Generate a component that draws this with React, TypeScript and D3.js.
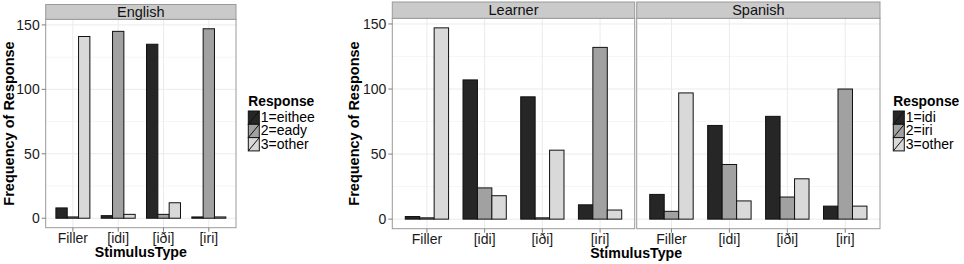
import React from "react";
import * as d3 from "d3";

const categories = ["Filler", "[idi]", "[iði]", "[iri]"];
const yTicks = [0, 50, 100, 150];
const yMinorTicks = [25, 75, 125];

const englishLevels = ["1=eithee", "2=eady", "3=other"];
const spanishLevels = ["1=idi", "2=iri", "3=other"];

const englishResp1 = [8, 2, 135, 1];
const englishResp2 = [1, 145, 3, 147];
const englishResp3 = [141, 3, 12, 1];

const learnerResp1 = [2, 107, 94, 11];
const learnerResp2 = [1, 24, 1, 132];
const learnerResp3 = [147, 18, 53, 7];

const spanishResp1 = [19, 72, 79, 10];
const spanishResp2 = [6, 42, 17, 100];
const spanishResp3 = [97, 14, 31, 10];

const fills = ["#262626", "#a1a1a1", "#d9d9d9"];
const FONT = "'Liberation Sans', Arial, Helvetica, sans-serif";

type Panel = { name: string; series: number[][]; x0: number; x1: number };

function FacetPlot(props: {
  panels: Panel[];
  levels: string[];
  stripTop: number;
  stripBottom: number;
  panelBottom: number;
  yTitleX: number;
  legendX: number;
}) {
  const { panels, levels, stripTop, stripBottom, panelBottom, yTitleX, legendX } = props;
  const maxV = 147;
  const pad = maxV * 0.05;
  const y = d3.scaleLinear().domain([-pad, maxV + pad]).range([panelBottom, stripBottom]);
  const first = panels[0];
  const last = panels[panels.length - 1];
  const midY = (stripBottom + panelBottom) / 2;
  const xCenter = (first.x0 + last.x1) / 2;

  return (
    <g fontFamily={FONT}>
      {panels.map((p, pi) => {
        const x = d3.scalePoint<string>().domain(categories).range([p.x0, p.x1]).padding(0.6);
        const step = x.step();
        const inner = d3
          .scaleBand<number>()
          .domain(levels.map((_, i) => i))
          .range([-0.375 * step, 0.375 * step]);
        return (
          <g key={p.name}>
            <rect x={p.x0} y={stripBottom} width={p.x1 - p.x0} height={panelBottom - stripBottom} fill="#ffffff" />
            {yMinorTicks.map((t) => (
              <line key={"m" + t} x1={p.x0} x2={p.x1} y1={y(t)} y2={y(t)} stroke="#f6f6f6" strokeWidth={1} />
            ))}
            {yTicks.map((t) => (
              <line key={"g" + t} x1={p.x0} x2={p.x1} y1={y(t)} y2={y(t)} stroke="#ebebeb" strokeWidth={1} />
            ))}
            {categories.map((c) => (
              <line key={"v" + c} x1={x(c)} x2={x(c)} y1={stripBottom} y2={panelBottom} stroke="#ebebeb" strokeWidth={1} />
            ))}
            {p.series.map((vals, si) =>
              vals.map((v, ci) => {
                const cx = x(categories[ci]) as number;
                const bx = cx + (inner(si) as number);
                return (
                  <rect
                    key={si + "-" + ci}
                    x={bx}
                    y={y(v)}
                    width={inner.bandwidth()}
                    height={y(0) - y(v)}
                    fill={fills[si]}
                    stroke="#111111"
                    strokeWidth={1}
                  />
                );
              })
            )}
            <rect x={p.x0} y={stripBottom} width={p.x1 - p.x0} height={panelBottom - stripBottom} fill="none" stroke="#9a9a9a" strokeWidth={1} />
            <rect x={p.x0} y={stripTop} width={p.x1 - p.x0} height={stripBottom - stripTop} fill="#cacaca" stroke="#9a9a9a" strokeWidth={1} />
            <text x={(p.x0 + p.x1) / 2} y={(stripTop + stripBottom) / 2 + 5} textAnchor="middle" fontSize={14.5} fill="#111">
              {p.name}
            </text>
            {categories.map((c) => (
              <g key={"xt" + c}>
                <line x1={x(c)} x2={x(c)} y1={panelBottom} y2={panelBottom + 4} stroke="#7f7f7f" />
                <text x={x(c)} y={panelBottom + 15} textAnchor="middle" fontSize={14} fill="#1a1a1a">
                  {c}
                </text>
              </g>
            ))}
            {pi === 0 &&
              yTicks.map((t) => (
                <g key={"yt" + t}>
                  <line x1={p.x0 - 4} x2={p.x0} y1={y(t)} y2={y(t)} stroke="#7f7f7f" />
                  <text x={p.x0 - 6} y={y(t) + 5} textAnchor="end" fontSize={14} fill="#1a1a1a">
                    {t}
                  </text>
                </g>
              ))}
          </g>
        );
      })}
      <text x={xCenter} y={panelBottom + 29.5} textAnchor="middle" fontSize={14.2} fontWeight="bold" fill="#000">
        StimulusType
      </text>
      <text
        transform={`translate(${yTitleX},${midY}) rotate(-90)`}
        textAnchor="middle"
        fontSize={14.5}
        fontWeight="bold"
        fill="#000"
      >
        Frequency of Response
      </text>
      <g transform={`translate(${legendX},0)`}>
        <text x={0} y={105.7} fontSize={13.8} fontWeight="bold" fill="#000">
          Response
        </text>
        {levels.map((l, i) => {
          const ky = 111 + i * 13.3;
          return (
            <g key={l}>
              <rect x={0} y={ky} width={11} height={13.3} fill={fills[i]} stroke="#111" strokeWidth={1} />
              <line x1={0} y1={ky + 13.3} x2={11} y2={ky} stroke="#111" strokeWidth={1} />
              <text x={12.5} y={ky + 11} fontSize={14} fill="#000">
                {l}
              </text>
            </g>
          );
        })}
      </g>
    </g>
  );
}

export default function App() {
  return (
    <svg width={964} height={264} style={{ position: "absolute", left: 0, top: 0, background: "#fff" }}>
      <rect x={0} y={0} width={964} height={264} fill="#ffffff" />
      <FacetPlot
        panels={[{ name: "English", series: [englishResp1, englishResp2, englishResp3], x0: 45.7, x1: 236 }]}
        levels={englishLevels}
        stripTop={4.5}
        stripBottom={19.3}
        panelBottom={227.7}
        yTitleX={14}
        legendX={248.3}
      />
      <FacetPlot
        panels={[
          { name: "Learner", series: [learnerResp1, learnerResp2, learnerResp3], x0: 392.3, x1: 634.7 },
          { name: "Spanish", series: [spanishResp1, spanishResp2, spanishResp3], x0: 636.7, x1: 880 },
        ]}
        levels={spanishLevels}
        stripTop={2}
        stripBottom={18.3}
        panelBottom={228.7}
        yTitleX={359}
        legendX={893.3}
      />
    </svg>
  );
}
